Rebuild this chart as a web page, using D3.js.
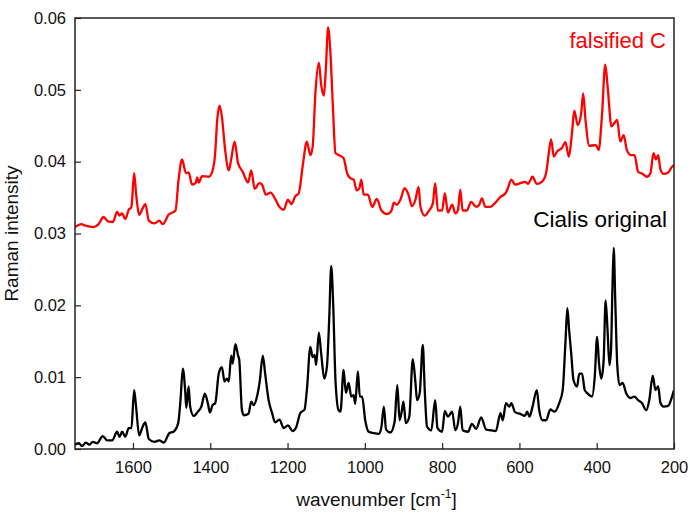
<!DOCTYPE html>
<html>
<head>
<meta charset="utf-8">
<script src="https://cdn.jsdelivr.net/npm/d3@7"></script>
<style>
  html, body { margin: 0; padding: 0; background: #fff; }
  svg { display: block; font-family: Arial, "Liberation Sans", sans-serif; }
</style>
</head>
<body>
<svg id="chart" width="690" height="519"></svg>
<script>
// ---- data ----
const xTicks = [1600, 1400, 1200, 1000, 800, 600, 400, 200];
const yTicks = [0.00, 0.01, 0.02, 0.03, 0.04, 0.05, 0.06];
const seriesNames = ["falsified C", "Cialis original"];

const falsifiedWavenumber = [1750,1734,1723,1702,1689,1676,1665,1652,1641,1635,1628,1620,1611,1604,1597,1592,1584,1575,1568,1559,1544,1532,1523,1508,1490,1482,1473,1463,1456,1447,1437,1434,1430,1421,1404,1397,1388,1382,1376,1370,1361,1352,1346,1337,1328,1316,1302,1294,1285,1273,1266,1256,1244,1230,1221,1210,1199,1190,1180,1171,1161,1150,1141,1135,1128,1119,1113,1106,1101,1095,1089,1083,1076,1063,1055,1046,1038,1029,1021,1014,1009,1003,992,981,969,957,943,931,925,917,908,897,887,878,869,861,856,845,835,824,818,811,800,793,785,774,766,759,753,747,736,725,712,704,697,688,675,662,649,636,630,621,611,598,585,578,566,555,542,531,524,518,511,503,490,481,472,464,458,449,440,435,429,419,402,395,386,378,371,362,354,347,339,330,322,311,302,293,281,270,261,253,247,241,235,227,215,205,200];
const falsifiedIntensity = [0.0309,0.0313,0.0311,0.0309,0.0313,0.0323,0.0317,0.0316,0.0330,0.0325,0.0328,0.0320,0.0333,0.0337,0.0384,0.0356,0.0326,0.0335,0.0341,0.0318,0.0314,0.0318,0.0313,0.0326,0.0332,0.0375,0.0403,0.0384,0.0385,0.0368,0.0371,0.0378,0.0371,0.0380,0.0379,0.0383,0.0407,0.0458,0.0478,0.0463,0.0414,0.0388,0.0403,0.0428,0.0398,0.0386,0.0371,0.0388,0.0362,0.0370,0.0368,0.0354,0.0357,0.0346,0.0337,0.0333,0.0347,0.0341,0.0352,0.0356,0.0393,0.0428,0.0409,0.0421,0.0495,0.0538,0.0507,0.0492,0.0528,0.0587,0.0551,0.0481,0.0412,0.0408,0.0405,0.0384,0.0377,0.0375,0.0360,0.0363,0.0375,0.0354,0.0354,0.0337,0.0348,0.0332,0.0327,0.0332,0.0343,0.0340,0.0347,0.0363,0.0354,0.0338,0.0347,0.0365,0.0337,0.0325,0.0331,0.0342,0.0370,0.0332,0.0332,0.0356,0.0329,0.0340,0.0328,0.0333,0.0361,0.0332,0.0332,0.0344,0.0337,0.0340,0.0349,0.0337,0.0337,0.0343,0.0351,0.0356,0.0363,0.0375,0.0368,0.0370,0.0372,0.0369,0.0379,0.0369,0.0372,0.0384,0.0412,0.0431,0.0407,0.0414,0.0419,0.0427,0.0407,0.0440,0.0471,0.0451,0.0468,0.0495,0.0458,0.0422,0.0423,0.0416,0.0468,0.0535,0.0500,0.0449,0.0454,0.0458,0.0428,0.0437,0.0416,0.0409,0.0409,0.0386,0.0383,0.0379,0.0384,0.0412,0.0403,0.0409,0.0389,0.0383,0.0385,0.0393,0.0395];

const originalWavenumber = [1750,1740,1732,1722,1713,1704,1693,1678,1667,1654,1641,1635,1628,1620,1611,1604,1597,1592,1584,1575,1568,1559,1544,1532,1520,1506,1495,1483,1477,1471,1465,1462,1456,1452,1443,1432,1423,1414,1406,1401,1394,1387,1378,1370,1363,1357,1352,1346,1342,1335,1328,1325,1318,1313,1301,1294,1288,1279,1272,1264,1258,1249,1240,1232,1221,1210,1199,1187,1178,1167,1156,1150,1141,1135,1130,1126,1119,1113,1105,1098,1092,1087,1082,1076,1068,1063,1055,1049,1042,1035,1029,1025,1018,1013,1007,999,990,977,964,957,951,945,934,923,916,910,904,900,894,885,876,869,865,858,850,845,839,828,818,812,800,793,785,774,766,759,753,747,733,723,712,699,686,673,661,649,643,635,626,621,611,598,586,580,574,566,555,549,540,531,520,509,497,488,481,476,471,466,460,451,445,438,431,423,412,405,399,394,388,382,377,372,367,363,359,356,352,347,341,333,324,313,302,293,283,272,264,255,248,241,235,227,215,205,200];
const originalIntensity = [0.0006,0.0008,0.0004,0.0009,0.0006,0.0010,0.0008,0.0018,0.0012,0.0012,0.0024,0.0017,0.0024,0.0017,0.0029,0.0029,0.0082,0.0059,0.0019,0.0031,0.0037,0.0014,0.0010,0.0012,0.0009,0.0022,0.0024,0.0036,0.0068,0.0112,0.0082,0.0057,0.0087,0.0059,0.0046,0.0052,0.0059,0.0077,0.0063,0.0051,0.0061,0.0064,0.0105,0.0114,0.0094,0.0098,0.0094,0.0130,0.0119,0.0146,0.0130,0.0124,0.0054,0.0047,0.0049,0.0066,0.0061,0.0073,0.0094,0.0130,0.0105,0.0068,0.0050,0.0037,0.0041,0.0029,0.0033,0.0025,0.0030,0.0050,0.0055,0.0082,0.0142,0.0128,0.0131,0.0117,0.0162,0.0133,0.0098,0.0115,0.0184,0.0255,0.0203,0.0096,0.0054,0.0052,0.0110,0.0078,0.0092,0.0073,0.0075,0.0063,0.0108,0.0073,0.0073,0.0040,0.0024,0.0022,0.0021,0.0031,0.0059,0.0027,0.0023,0.0038,0.0089,0.0040,0.0054,0.0066,0.0036,0.0045,0.0125,0.0092,0.0068,0.0078,0.0145,0.0082,0.0031,0.0026,0.0068,0.0029,0.0024,0.0053,0.0045,0.0052,0.0026,0.0036,0.0059,0.0026,0.0024,0.0035,0.0028,0.0044,0.0027,0.0026,0.0025,0.0050,0.0040,0.0064,0.0059,0.0064,0.0051,0.0049,0.0046,0.0052,0.0045,0.0059,0.0082,0.0055,0.0040,0.0040,0.0055,0.0052,0.0064,0.0082,0.0147,0.0196,0.0163,0.0133,0.0096,0.0087,0.0105,0.0105,0.0082,0.0077,0.0073,0.0101,0.0156,0.0119,0.0098,0.0124,0.0207,0.0166,0.0117,0.0138,0.0231,0.0280,0.0207,0.0119,0.0089,0.0092,0.0078,0.0071,0.0073,0.0068,0.0064,0.0054,0.0068,0.0102,0.0082,0.0087,0.0064,0.0059,0.0060,0.0073,0.0082];

const seriesColors = ["#ff0000", "#000000"];

// ---- chart ----
const svg = d3.select("#chart");
const margin = { left: 75, right: 16, top: 18, bottom: 70 };
const W = 690, H = 519;
const x = d3.scaleLinear().domain([1750, 200]).range([margin.left, W - margin.right]);
const y = d3.scaleLinear().domain([0, 0.06]).range([H - margin.bottom, margin.top]);

const series = [
  { name: seriesNames[0], color: seriesColors[0], pts: falsifiedWavenumber.map((w, i) => [w, falsifiedIntensity[i]]) },
  { name: seriesNames[1], color: seriesColors[1], pts: originalWavenumber.map((w, i) => [w, originalIntensity[i]]) }
];

const clipId = "plotclip";
svg.append("clipPath").attr("id", clipId).append("rect")
  .attr("x", margin.left).attr("y", margin.top)
  .attr("width", W - margin.right - margin.left).attr("height", H - margin.bottom - margin.top);

const line = d3.line().x(d => x(d[0])).y(d => y(d[1])).curve(d3.curveMonotoneX);
series.forEach(s => {
  svg.append("path").datum(s.pts)
    .attr("clip-path", `url(#${clipId})`)
    .attr("fill", "none").attr("stroke", s.color)
    .attr("stroke-width", 2.3).attr("stroke-linejoin", "round")
    .attr("d", line);
});

// axes (ticks pointing inward)
const xAxis = d3.axisBottom(x).tickValues(xTicks).tickSize(-6).tickPadding(12).tickFormat(d3.format("d"));
const yAxis = d3.axisLeft(y).tickValues(yTicks).tickSize(-6).tickPadding(9).tickFormat(d3.format(".2f"));

const gx = svg.append("g").attr("transform", `translate(0,${H - margin.bottom})`).call(xAxis);
const gy = svg.append("g").attr("transform", `translate(${margin.left},0)`).call(yAxis);
[gx, gy].forEach(g => {
  g.select(".domain").remove();
  g.selectAll(".tick line").attr("stroke", "#222").attr("stroke-width", 1.2);
  g.selectAll(".tick text").attr("fill", "#111").style("font-size", "16.5px")
    .style("font-family", "Arial, 'Liberation Sans', sans-serif");
});

// frame
svg.append("rect")
  .attr("x", margin.left).attr("y", margin.top)
  .attr("width", W - margin.right - margin.left).attr("height", H - margin.bottom - margin.top)
  .attr("fill", "none").attr("stroke", "#222").attr("stroke-width", 1.5);

// titles
const xt = svg.append("text")
  .attr("x", (margin.left + W - margin.right) / 2 + 2).attr("y", 506)
  .attr("text-anchor", "middle").attr("fill", "#111").style("font-size", "19px");
xt.append("tspan").text("wavenumber [cm");
xt.append("tspan").attr("dy", -8).style("font-size", "12px").text("-1");
xt.append("tspan").attr("dy", 8).text("]");

svg.append("text")
  .attr("transform", `translate(18,${(margin.top + H - margin.bottom) / 2}) rotate(-90)`)
  .attr("text-anchor", "middle").attr("fill", "#111").style("font-size", "19px")
  .text("Raman intensity");

// series labels
svg.append("text").attr("x", 666).attr("y", 48).attr("text-anchor", "end")
  .attr("fill", seriesColors[0]).style("font-size", "22px").text(seriesNames[0]);
svg.append("text").attr("x", 667).attr("y", 227).attr("text-anchor", "end")
  .attr("fill", seriesColors[1]).style("font-size", "22.5px").text(seriesNames[1]);
</script>
</body>
</html>
